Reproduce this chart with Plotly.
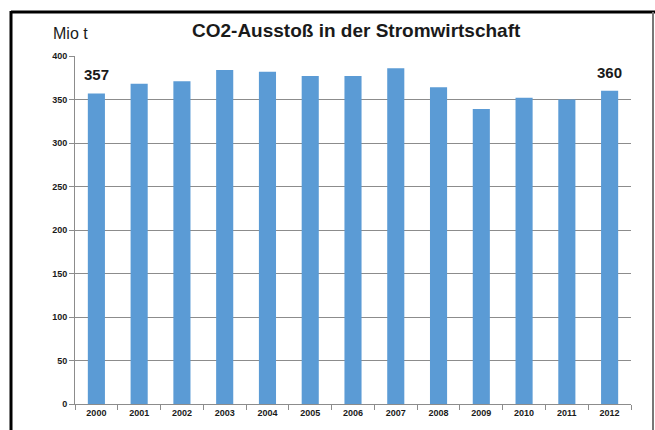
import plotly.graph_objects as go

years = ["2000", "2001", "2002", "2003", "2004", "2005", "2006",
         "2007", "2008", "2009", "2010", "2011", "2012"]
co2 = [357, 368, 371, 384, 382, 377, 377, 386, 364, 339, 352, 350, 360]
y_ticks = [0, 50, 100, 150, 200, 250, 300, 350, 400]
labelled = {"2000": "357", "2012": "360"}

W, H = 655, 430
ml, mr, mt, mb = 75, 24, 56, 19
pw, ph = W - ml - mr, H - mt - mb

def px(x):
    return (x - ml) / pw

def py(y):
    return (H - mb - y) / ph

FONT = "Liberation Sans, Arial, sans-serif"

fig = go.Figure()
fig.add_trace(go.Bar(x=years, y=co2, marker=dict(color="#5B9BD5", line=dict(width=0)),
                     width=0.4, hoverinfo="x+y"))

annotations = []
for yr, txt in labelled.items():
    i = years.index(yr)
    annotations.append(dict(x=i, y=co2[i], xref="x", yref="y", text="<b>%s</b>" % txt,
                            showarrow=False, yanchor="bottom", yshift=8,
                            font=dict(family=FONT, size=15, color="#1a1a1a")))
annotations.append(dict(x=px(356), y=py(30), xref="paper", yref="paper",
                        text="<b>CO2-Ausstoß in der Stromwirtschaft</b>", showarrow=False,
                        xanchor="center", yanchor="middle",
                        font=dict(family=FONT, size=19, color="#1a1a1a")))
annotations.append(dict(x=px(70), y=py(33), xref="paper", yref="paper",
                        text="Mio t", showarrow=False, xanchor="center", yanchor="middle",
                        font=dict(family=FONT, size=16, color="#1a1a1a")))

fig.update_layout(
    width=W, height=H,
    margin=dict(l=ml, r=mr, t=mt, b=mb),
    paper_bgcolor="white", plot_bgcolor="white",
    showlegend=False,
    annotations=annotations,
    shapes=[
        dict(type="line", xref="paper", yref="paper", x0=px(11), x1=px(655),
             y0=py(11), y1=py(11), line=dict(color="black", width=3), layer="above"),
        dict(type="line", xref="paper", yref="paper", x0=px(11), x1=px(11),
             y0=py(10), y1=py(440), line=dict(color="black", width=3), layer="above"),
        dict(type="line", xref="paper", yref="paper", x0=px(653), x1=px(653),
             y0=py(11), y1=py(440), line=dict(color="#777777", width=2), layer="above"),
    ],
    xaxis=dict(type="category", range=[-0.5, len(years) - 0.5], showgrid=False,
               showline=True, linecolor="#8c8c8c",
               linewidth=1, ticks="outside", tickson="boundaries", ticklen=5,
               tickcolor="#8c8c8c",
               tickfont=dict(family=FONT, size=9, color="#1a1a1a", weight="bold")),
    yaxis=dict(range=[0, 400], tickvals=y_ticks, showgrid=True, gridcolor="#8c8c8c",
               gridwidth=1, showline=True, linecolor="#8c8c8c", linewidth=1,
               ticks="outside", ticklen=5, tickcolor="#8c8c8c", zeroline=False,
               tickfont=dict(family=FONT, size=9, color="#1a1a1a", weight="bold")),
    bargap=0.6,
)

fig.write_html("out.html", config={"displayModeBar": False},
               post_script="document.body.style.margin='0';document.body.style.overflow='hidden';")
